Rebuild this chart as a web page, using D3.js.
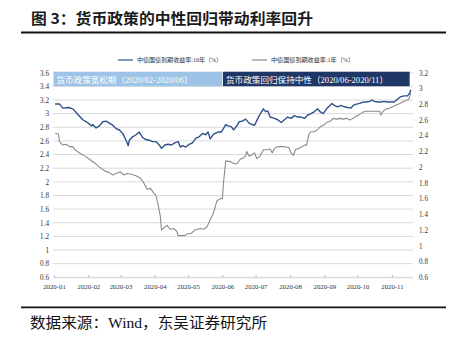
<!DOCTYPE html>
<html><head><meta charset="utf-8">
<script src="https://cdn.jsdelivr.net/npm/d3@7"></script>
<style>
html,body{margin:0;padding:0;background:#fff;}
svg{display:block;}
</style></head>
<body>
<svg id="chart" width="455" height="348"></svg>
<script>
const titleText = "图 3：货币政策的中性回归带动利率回升";
const sourceText = "数据来源：Wind，东吴证券研究所";
const seriesNames = ["中债国债到期收益率:10年（%）", "中债国债到期收益率:1年（%）"];
const periodLabels = ["货币政策宽松期（2020/02-2020/06）", "货币政策回归保持中性（2020/06-2020/11）"];
const periodRanges = [["2020-01-01","2020-06-01"],["2020-06-02","2020-11-17"]];
const monthTicks = ["2020-01","2020-02","2020-03","2020-04","2020-05","2020-06","2020-07","2020-08","2020-09","2020-10","2020-11"];
const leftTicks = [0.6,0.8,1,1.2,1.4,1.6,1.8,2,2.2,2.4,2.6,2.8,3,3.2,3.4,3.6];
const rightTicks = [0.6,0.8,1,1.2,1.4,1.6,1.8,2,2.2,2.4,2.6,2.8,3,3.2];

const tenYDates = ["2020-01-02","2020-01-06","2020-01-09","2020-01-14","2020-01-18","2020-01-23","2020-01-27","2020-02-01","2020-02-04","2020-02-05",
"2020-02-08","2020-02-11","2020-02-14","2020-02-17","2020-02-20","2020-02-23","2020-02-26","2020-02-29","2020-03-03","2020-03-06",
"2020-03-08","2020-03-09","2020-03-12","2020-03-15","2020-03-18","2020-03-21","2020-03-24","2020-03-27","2020-03-30","2020-04-02",
"2020-04-05","2020-04-07","2020-04-10","2020-04-13","2020-04-16","2020-04-19","2020-04-22","2020-04-24","2020-04-26","2020-04-29",
"2020-05-02","2020-05-05","2020-05-08","2020-05-11","2020-05-14","2020-05-17","2020-05-19","2020-05-21","2020-05-24","2020-05-28",
"2020-05-31","2020-06-04","2020-06-06","2020-06-09","2020-06-11","2020-06-14","2020-06-16","2020-06-19","2020-06-22","2020-06-25",
"2020-06-28","2020-06-30","2020-07-03","2020-07-06","2020-07-08","2020-07-10","2020-07-12","2020-07-14","2020-07-18","2020-07-21",
"2020-07-24","2020-07-27","2020-07-30","2020-08-02","2020-08-05","2020-08-08","2020-08-11","2020-08-14","2020-08-17","2020-08-20",
"2020-08-23","2020-08-26","2020-08-28","2020-08-31","2020-09-03","2020-09-06","2020-09-08","2020-09-10","2020-09-13","2020-09-16",
"2020-09-19","2020-09-22","2020-09-25","2020-09-27","2020-09-30","2020-10-03","2020-10-06","2020-10-09","2020-10-12","2020-10-14",
"2020-10-16","2020-10-19","2020-10-22","2020-10-25","2020-10-28","2020-10-31","2020-11-03","2020-11-06","2020-11-09","2020-11-12",
"2020-11-15","2020-11-17","2020-11-18"];
const tenYValues = [3.14,3.14,3.08,3.09,3.07,2.98,2.91,2.86,2.82,2.84,
2.79,2.82,2.88,2.89,2.86,2.83,2.78,2.76,2.71,2.61,
2.53,2.61,2.66,2.69,2.73,2.65,2.62,2.61,2.59,2.59,
2.54,2.49,2.54,2.55,2.54,2.57,2.59,2.51,2.53,2.51,
2.55,2.57,2.64,2.66,2.71,2.69,2.73,2.63,2.70,2.73,
2.73,2.84,2.82,2.81,2.76,2.82,2.88,2.89,2.92,2.86,
2.84,2.83,2.93,3.02,3.07,3.03,3.04,2.95,2.93,2.91,
2.87,2.91,2.95,2.93,2.97,2.95,2.95,2.93,2.98,3.00,
3.03,3.07,3.03,3.00,3.07,3.12,3.15,3.12,3.10,3.12,
3.10,3.09,3.08,3.12,3.14,3.15,3.17,3.17,3.18,3.20,
3.18,3.17,3.17,3.18,3.17,3.17,3.17,3.21,3.25,3.26,
3.26,3.30,3.35];

const oneYDates = ["2020-01-02","2020-01-05","2020-01-06","2020-01-09","2020-01-12","2020-01-15","2020-01-18","2020-01-20","2020-01-24","2020-01-29",
"2020-02-02","2020-02-07","2020-02-11","2020-02-16","2020-02-20","2020-02-23","2020-02-26","2020-03-01","2020-03-04","2020-03-07",
"2020-03-11","2020-03-15","2020-03-19","2020-03-22","2020-03-25","2020-03-28","2020-03-31","2020-04-02","2020-04-04","2020-04-06",
"2020-04-07","2020-04-10","2020-04-12","2020-04-15","2020-04-18","2020-04-21","2020-04-22","2020-04-25","2020-04-28","2020-04-30",
"2020-05-04","2020-05-07","2020-05-12","2020-05-15","2020-05-18","2020-05-21","2020-05-24","2020-05-27","2020-05-30","2020-06-01",
"2020-06-02","2020-06-04","2020-06-08","2020-06-11","2020-06-14","2020-06-17","2020-06-20","2020-06-22","2020-06-23","2020-06-25",
"2020-06-27","2020-06-30","2020-07-02","2020-07-05","2020-07-08","2020-07-11","2020-07-14","2020-07-16","2020-07-18","2020-07-21",
"2020-07-24","2020-07-27","2020-07-31","2020-08-02","2020-08-04","2020-08-06","2020-08-09","2020-08-12","2020-08-14","2020-08-16",
"2020-08-18","2020-08-20","2020-08-23","2020-08-26","2020-08-29","2020-09-01","2020-09-03","2020-09-06","2020-09-09","2020-09-12",
"2020-09-15","2020-09-18","2020-09-21","2020-09-24","2020-09-27","2020-09-30","2020-10-03","2020-10-06","2020-10-09","2020-10-12",
"2020-10-15","2020-10-18","2020-10-21","2020-10-22","2020-10-24","2020-10-27","2020-10-30","2020-11-02","2020-11-05","2020-11-08",
"2020-11-11","2020-11-14","2020-11-16","2020-11-18"];
const oneYValues = [2.43,2.42,2.32,2.28,2.29,2.26,2.26,2.22,2.18,2.14,
2.10,2.05,2.00,1.95,1.93,1.90,1.92,1.94,1.90,1.92,
1.91,1.89,1.86,1.80,1.72,1.73,1.67,1.64,1.52,1.37,
1.20,1.24,1.26,1.21,1.22,1.18,1.13,1.13,1.13,1.15,
1.16,1.20,1.22,1.21,1.24,1.33,1.42,1.57,1.60,1.60,
1.81,2.08,2.07,2.05,2.04,2.10,2.12,2.14,2.20,2.14,
2.15,2.18,2.11,2.14,2.22,2.22,2.23,2.18,2.24,2.26,
2.26,2.26,2.25,2.18,2.15,2.22,2.24,2.26,2.28,2.28,
2.42,2.45,2.45,2.48,2.52,2.54,2.57,2.58,2.62,2.61,
2.62,2.61,2.62,2.60,2.62,2.65,2.67,2.70,2.71,2.71,
2.71,2.71,2.71,2.66,2.71,2.74,2.75,2.77,2.79,2.81,
2.83,2.85,2.86,2.94];

const parse = d3.timeParse("%Y-%m-%d");
const parseM = d3.timeParse("%Y-%m");
const svg = d3.select("#chart");

const x = d3.scaleTime().domain([parse("2020-01-01"), parse("2020-11-20")]).range([54, 413]);
const yL = d3.scaleLinear().domain([0.6, 3.6]).range([277.3, 72.7]);
const yR = d3.scaleLinear().domain([0.6, 3.2]).range([277.3, 72.7]);

const cjk = "'Noto Sans CJK SC', sans-serif";
const serif = "'Liberation Serif', 'Times New Roman', 'Noto Sans CJK SC', serif";

// Title
svg.append("text").attr("x", 31).attr("y", 24).attr("font-family", cjk).attr("font-weight", "bold")
  .attr("font-size", 15).attr("fill", "#1a1a1a").attr("textLength", 282).attr("lengthAdjust","spacingAndGlyphs").text(titleText);
svg.append("line").attr("x1", 21).attr("x2", 446).attr("y1", 32.5).attr("y2", 32.5).attr("stroke", "#111").attr("stroke-width", 1.8);
svg.append("line").attr("x1", 21).attr("x2", 446).attr("y1", 307.3).attr("y2", 307.3).attr("stroke", "#111").attr("stroke-width", 1.8);
svg.append("text").attr("x", 30).attr("y", 328).attr("font-family", serif)
  .attr("font-size", 14.5).attr("fill", "#111").attr("textLength", 237).attr("lengthAdjust","spacingAndGlyphs").text(sourceText);

// Gridlines
svg.append("g").selectAll("line").data(leftTicks).join("line")
  .attr("x1", 53).attr("x2", 413).attr("y1", d => yL(d)).attr("y2", d => yL(d))
  .attr("stroke", "#d9d9d9").attr("stroke-width", 1);

// X axis
const xAxis = d3.axisBottom(x).tickValues(monthTicks.map(parseM)).tickFormat(d3.timeFormat("%Y-%m")).tickSizeInner(-2.5).tickSizeOuter(0).tickPadding(7);
const gx = svg.append("g").attr("transform", `translate(0,${yL(0.6)})`).call(xAxis);
gx.select(".domain").attr("stroke", "#d9d9d9");
gx.selectAll(".tick line").attr("stroke", "#bfbfbf");
gx.selectAll("text").attr("font-family", serif).attr("font-size", 6.8).attr("fill", "#333");

// Left axis
const gl = svg.append("g").attr("transform", "translate(49,0)")
  .call(d3.axisLeft(yL).tickValues(leftTicks).tickFormat(d3.format("~g")).tickSize(0).tickPadding(0));
gl.select(".domain").remove();
gl.selectAll("text").attr("font-family", serif).attr("font-size", 7.2).attr("fill", "#333");

// Right axis
const gr = svg.append("g").attr("transform", "translate(419,0)")
  .call(d3.axisRight(yR).tickValues(rightTicks).tickFormat(d3.format("~g")).tickSize(0).tickPadding(0));
gr.select(".domain").remove();
gr.selectAll("text").attr("font-family", serif).attr("font-size", 7.2).attr("fill", "#333");

// Period boxes
const boxColors = ["#9dc3e6", "#1f3766"];
const boxTextLen = [136, 162];
periodRanges.forEach((r, i) => {
  const x0 = x(parse(r[0])) - 0.5, x1 = x(parse(r[1]));
  svg.append("rect").attr("x", x0).attr("y", yL(3.6) - 1).attr("width", x1 - x0).attr("height", 14.5)
    .attr("fill", boxColors[i]);
  svg.append("text").attr("x", x0 + 3).attr("y", yL(3.6) + 9.8).attr("font-family", serif)
    .attr("font-size", 8.5).attr("fill", "#fff").attr("textLength", boxTextLen[i]).attr("lengthAdjust","spacingAndGlyphs")
    .text(periodLabels[i]);
});

// Lines
const line10 = d3.line().x((d, i) => x(parse(tenYDates[i]))).y(d => yL(d));
const line1 = d3.line().x((d, i) => x(parse(oneYDates[i]))).y(d => yR(d));
svg.append("path").datum(oneYValues).attr("d", line1).attr("fill", "none").attr("stroke", "#8c8c8c").attr("stroke-width", 1.1).attr("stroke-linejoin","round");
svg.append("path").datum(tenYValues).attr("d", line10).attr("fill", "none").attr("stroke", "#2f5188").attr("stroke-width", 1.4).attr("stroke-linejoin","round");

// Legend
const legendItems = [{name: seriesNames[0], color: "#2f5188", x: 118, tl: 85}, {name: seriesNames[1], color: "#8c8c8c", x: 252, tl: 83}];
const lg = svg.append("g");
legendItems.forEach(it => {
  lg.append("line").attr("x1", it.x).attr("x2", it.x + 15).attr("y1", 60).attr("y2", 60).attr("stroke", it.color).attr("stroke-width", 1.2);
  lg.append("text").attr("x", it.x + 19).attr("y", 62.2).attr("font-family", serif).attr("font-size", 6.2)
    .attr("fill", "#333").attr("textLength", it.tl).attr("lengthAdjust","spacingAndGlyphs").text(it.name);
});
</script>
</body></html>
